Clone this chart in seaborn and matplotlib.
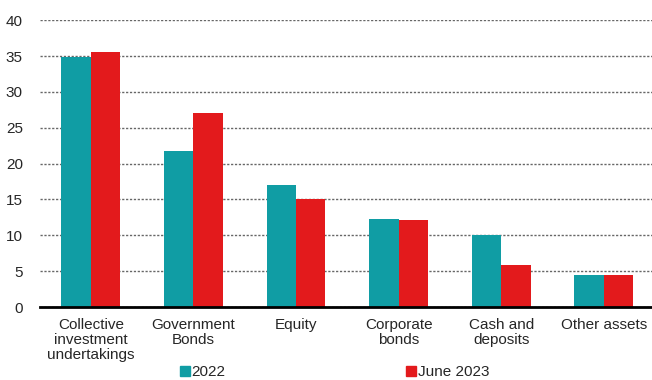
import matplotlib
matplotlib.use("Agg")
import matplotlib.pyplot as plt
import seaborn as sns
import pandas as pd
from matplotlib.lines import Line2D

categories = ["Collective\ninvestment\nundertakings", "Government\nBonds", "Equity",
              "Corporate\nbonds", "Cash and\ndeposits", "Other assets"]
series_names = ["2022", "June 2023"]
values_2022 = [34.8, 21.8, 17.0, 12.3, 10.1, 4.5]
values_2023 = [35.5, 27.0, 15.0, 12.2, 5.8, 4.5]
y_ticks = [0, 5, 10, 15, 20, 25, 30, 35, 40]

colors = {"2022": "#109DA4", "June 2023": "#E31A1C"}

df = pd.DataFrame({
    "category": categories * 2,
    "series": [series_names[0]] * len(categories) + [series_names[1]] * len(categories),
    "value": values_2022 + values_2023,
})

sns.set_style("white")
plt.rcParams["font.family"] = ["Liberation Sans", "DejaVu Sans"]

FS = 11

fig = plt.figure(figsize=(6.52, 3.80), dpi=100)
ax = fig.add_axes([0.0606, 0.192, 0.9394, 0.755])

sns.barplot(data=df, x="category", y="value", hue="series", palette=colors,
            width=0.575, saturation=1, ax=ax, legend=False, edgecolor="none", zorder=3)

ax.set_ylim(0, 40)
ax.set_xlim(-0.5, 5.47)
ax.set_yticks(y_ticks)
ax.set_yticklabels([str(t) for t in y_ticks], fontsize=FS)
ax.tick_params(axis="x", labelsize=FS, length=0, pad=8)
ax.tick_params(axis="y", length=0, pad=12)
ax.set_xlabel("")
ax.set_ylabel("")
for t in ax.get_xticklabels():
    t.set_linespacing(1.1)

ax.yaxis.grid(True, linestyle=(0, (1.6, 1.2)), color="#666666", linewidth=1.0, zorder=0)
ax.set_axisbelow(True)
for s in ["top", "right", "left"]:
    ax.spines[s].set_visible(False)
ax.spines["bottom"].set_color("black")
ax.spines["bottom"].set_linewidth(2)
ax.spines["bottom"].set_zorder(5)

handles = [Line2D([0], [0], marker="s", linestyle="none", markersize=7,
                  markerfacecolor=colors[n], markeredgecolor=colors[n]) for n in series_names]
fig.legend(handles, series_names, loc="center", bbox_to_anchor=(0.512, 0.02), ncol=2,
           frameon=False, fontsize=FS, handletextpad=0.0, columnspacing=11.7,
           handlelength=0.9)

fig.savefig("out.png", dpi=100)
